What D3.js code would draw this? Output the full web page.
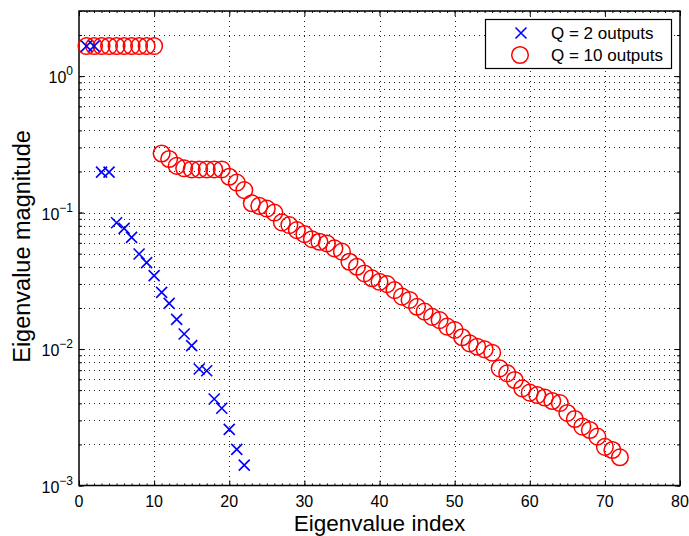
<!DOCTYPE html>
<html><head><meta charset="utf-8">
<script src="https://cdn.jsdelivr.net/npm/d3@7"></script>
<style>body{margin:0;background:#fff}svg{display:block}</style>
</head><body>
<script>
const xTicks = [0,10,20,30,40,50,60,70,80];
const yTickExps = [-3,-2,-1,0];
const q2Index = d3.range(1,23);
const q2Values = [1.66,1.66,0.198,0.198,0.0842,0.0766,0.0658,0.0497,0.043,0.0345,0.026,0.0216,0.0165,0.0129,0.0106,0.00714,0.00693,0.0043,0.00368,0.00258,0.00184,0.00141];
const q10Index = d3.range(1,73);
const q10Values = [1.66,1.66,1.66,1.66,1.66,1.66,1.66,1.66,1.66,1.66,
 0.271,0.247,0.220,0.211,0.207,0.207,0.207,0.207,0.207,0.183,
 0.166,0.146,0.117,0.112,0.107,0.100,0.0848,0.081,0.0744,0.0695,
 0.0638,0.0611,0.0594,0.0547,0.0517,0.0436,0.0401,0.0358,0.033,0.0311,
 0.0299,0.027,0.0242,0.0229,0.0204,0.0188,0.0172,0.0163,0.0146,0.0138,
 0.0122,0.0110,0.0104,0.00995,0.0094,0.00722,0.00664,0.00593,0.00515,0.00479,
 0.0046,0.00441,0.00416,0.00402,0.0034,0.00307,0.0027,0.00255,0.00228,0.00192,
 0.00182,0.00161];
const legendLabels = ["Q = 2 outputs","Q = 10 outputs"];
const xLabel = "Eigenvalue index", yLabel = "Eigenvalue magnitude";

const W=689,H=536, L=79,R=680,T=11,B=485.5;
const svg=d3.select("body").append("svg").attr("width",W).attr("height",H);
const x=d3.scaleLinear().domain([0,80]).range([L,R]);
const y=d3.scaleLog().domain([1e-3,3]).range([B,T]);
const font="Liberation Sans, Arial, sans-serif";

// grid
const g=svg.append("g");
const minorVals=[];
for(let e=-3;e<=0;e++) for(let m=1;m<=9;m++){const v=m*Math.pow(10,e); if(v<=3) minorVals.push(v);}
g.selectAll(".hg").data(minorVals.filter(v=>v>1e-3)).enter().append("line")
 .attr("x1",L).attr("x2",R).attr("y1",d=>Math.round(y(d))+0.5).attr("y2",d=>Math.round(y(d))+0.5)
 .attr("stroke","#222").attr("stroke-width",1).attr("stroke-dasharray","1,4");
g.selectAll(".vg").data(xTicks.slice(1,-1)).enter().append("line")
 .attr("y1",T).attr("y2",B).attr("x1",d=>Math.round(x(d))+0.5).attr("x2",d=>Math.round(x(d))+0.5)
 .attr("stroke","#222").attr("stroke-width",1).attr("stroke-dasharray","1,4");

// axes via d3 axis
const xAxB=d3.axisBottom(x).tickValues(xTicks).tickSize(-5).tickFormat("");
const xAxT=d3.axisTop(x).tickValues(xTicks).tickSize(-5).tickFormat("");
const xMinB=d3.axisBottom(x).tickValues(d3.range(0,81,1)).tickSize(-2).tickFormat("");
const xMinT=d3.axisTop(x).tickValues(d3.range(0,81,1)).tickSize(-2).tickFormat("");
const yMajor=yTickExps.map(e=>Math.pow(10,e));
const yAxL=d3.axisLeft(y).tickValues(yMajor).tickSize(-5).tickFormat("");
const yAxR=d3.axisRight(y).tickValues(yMajor).tickSize(-5).tickFormat("");
const yMinL=d3.axisLeft(y).tickValues(minorVals).tickSize(-3).tickFormat("");
const yMinR=d3.axisRight(y).tickValues(minorVals).tickSize(-3).tickFormat("");
function draw(ax,tr){const a=svg.append("g").attr("transform",tr).call(ax);
 a.select(".domain").remove(); a.selectAll("line").attr("stroke","#000");}
draw(xAxB,`translate(0,${B})`);draw(xAxT,`translate(0,${T})`);
draw(xMinB,`translate(0,${B})`);draw(xMinT,`translate(0,${T})`);
draw(yAxL,`translate(${L},0)`);draw(yAxR,`translate(${R},0)`);
draw(yMinL,`translate(${L},0)`);draw(yMinR,`translate(${R},0)`);
svg.append("rect").attr("x",L).attr("y",T).attr("width",R-L).attr("height",B-T)
 .attr("fill","none").attr("stroke","#000").attr("stroke-width",1.5);

// tick labels
svg.selectAll(".xl").data(xTicks).enter().append("text")
 .attr("x",d=>x(d)).attr("y",B+21.5).attr("text-anchor","middle")
 .attr("font-family",font).attr("font-size",16).text(d=>d);
const yl=svg.selectAll(".yl").data(yTickExps).enter().append("text")
 .attr("x",L-6).attr("y",d=>y(Math.pow(10,d))+7).attr("text-anchor","end")
 .attr("font-family",font).attr("font-size",16);
yl.append("tspan").text("10");
yl.append("tspan").attr("dy",-8).attr("font-size",12).text(d=>d===0?"0":"\u2212"+(-d));

// axis labels
svg.append("text").attr("x",(L+R)/2).attr("y",531).attr("text-anchor","middle")
 .attr("font-family",font).attr("font-size",22.5).text(xLabel);
svg.append("text").attr("transform",`translate(30,246.5) rotate(-90)`).attr("text-anchor","middle")
 .attr("font-family",font).attr("font-size",23.5).text(yLabel);

// data
const cs=svg.append("g");
function cross(sel,s){sel.append("path").attr("d",`M${-s},${-s}L${s},${s}M${-s},${s}L${s},${-s}`)
 .attr("stroke","#0000ff").attr("stroke-width",1.6).attr("fill","none");}
const q2=q2Index.map((d,i)=>({i:d,v:q2Values[i]}));
const q10=q10Index.map((d,i)=>({i:d,v:q10Values[i]}));
cs.selectAll(".c").data(q10).enter().append("circle")
 .attr("cx",d=>x(d.i)).attr("cy",d=>y(d.v)).attr("r",8.3)
 .attr("fill","none").attr("stroke","#ff0000").attr("stroke-width",1.5);
cs.selectAll(".x").data(q2).enter().append("g")
 .attr("transform",d=>`translate(${x(d.i)},${y(d.v)})`).each(function(){cross(d3.select(this),5.5);});

// legend
const lg=svg.append("g");
lg.append("rect").attr("x",485.5).attr("y",19.5).attr("width",186).attr("height",49)
 .attr("fill","#fff").attr("stroke","#000").attr("stroke-width",1.2);
const l1=lg.append("g").attr("transform","translate(521,33)"); cross(l1,5.5);
lg.append("circle").attr("cx",520).attr("cy",55).attr("r",8.3).attr("fill","none").attr("stroke","#ff0000").attr("stroke-width",1.5);
lg.selectAll(".lt").data(legendLabels).enter().append("text")
 .attr("x",551).attr("y",(d,i)=>39+i*22).attr("font-family",font).attr("font-size",17).text(d=>d);
</script>
</body></html>
